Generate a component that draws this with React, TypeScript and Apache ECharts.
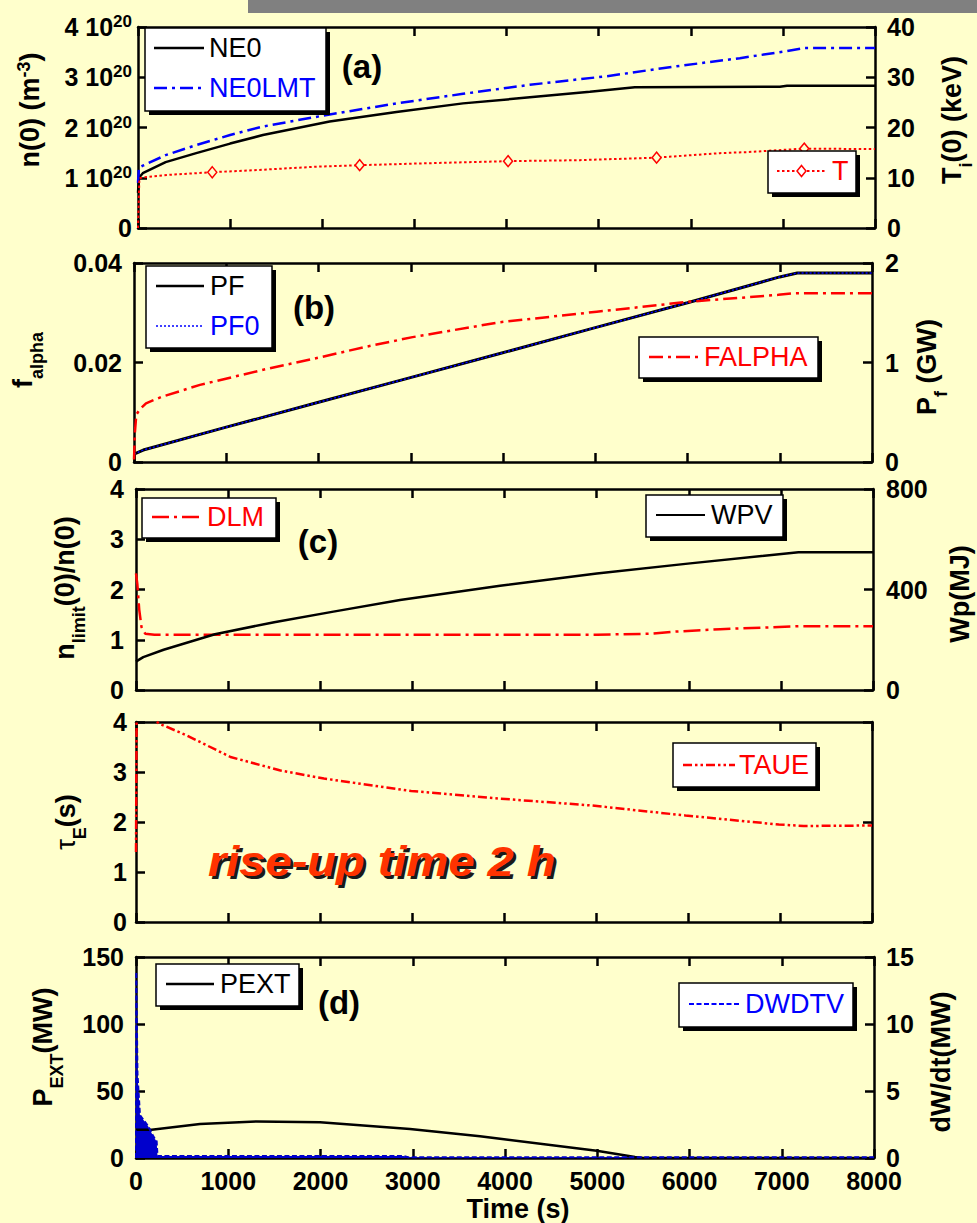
import React, { useEffect, useRef } from "react";
import * as echarts from "echarts";

const FONT = '"Liberation Sans", Arial, Helvetica, sans-serif';
const BG = "#ffffcc";
const RED = "#ff0000";
const BLUE = "#0000ff";
const BLACK = "#000000";

// Shared time axis (s)
const TIME_MIN = 0;
const TIME_MAX = 8000;
const TIME_STEP = 1000;

// (a) central density NE0, density limit NE0LMT (m^-3) and ion temperature T (keV)
const NE0_T = [0, 10, 52, 300, 632, 1000, 1356, 2080, 2805, 3528, 4253, 4905, 5393, 6968, 7045, 8000];
const NE0_V = [0.7e20, 1.0e20, 1.09e20, 1.31e20, 1.49e20, 1.68e20, 1.85e20, 2.12e20, 2.31e20, 2.48e20, 2.6e20, 2.71e20, 2.8e20, 2.81e20, 2.83e20, 2.83e20];
const NE0LMT_T = [0, 10, 52, 300, 632, 1000, 1356, 2080, 2805, 3528, 4253, 5086, 5809, 6533, 7041, 7222, 8000];
const NE0LMT_V = [0.9e20, 1.2e20, 1.24e20, 1.45e20, 1.65e20, 1.85e20, 2.02e20, 2.26e20, 2.48e20, 2.67e20, 2.85e20, 3.02e20, 3.21e20, 3.38e20, 3.52e20, 3.58e20, 3.58e20];
const TI_T = [0, 15, 60, 354, 806, 1356, 1935, 2406, 3166, 4017, 4796, 5629, 6317, 6607, 7232, 8000];
const TI_V = [0, 9.9, 10.1, 10.6, 11.1, 11.6, 12.2, 12.5, 12.9, 13.3, 13.5, 14.0, 14.9, 15.1, 15.8, 15.7];
const TI_MARKED = [806, 2406, 4017, 5629, 7232];

// (b) fusion power PF, PF0 (GW) and alpha fraction FALPHA
const PF_T = [0, 100, 1000, 2000, 2885, 3967, 5000, 6000, 7000, 7190, 8000];
const PF_V = [0.08, 0.12, 0.35, 0.6, 0.82, 1.09, 1.35, 1.6, 1.86, 1.9, 1.9];
const PF0_T = [0, 100, 1000, 2000, 2885, 3967, 5000, 6000, 7000, 7190, 8000];
const PF0_V = [0.08, 0.12, 0.35, 0.6, 0.82, 1.09, 1.35, 1.6, 1.86, 1.9, 1.9];
const FALPHA_T = [0, 10, 25, 60, 130, 300, 715, 1030, 1438, 2030, 2500, 3020, 3967, 5016, 6009, 6985, 7147, 8000];
const FALPHA_V = [0.0005, 0.006, 0.0095, 0.0105, 0.0118, 0.0131, 0.0155, 0.0169, 0.0187, 0.0211, 0.0231, 0.0251, 0.0281, 0.0302, 0.0322, 0.0336, 0.0339, 0.0339];

// (c) density-limit ratio DLM and stored energy WPV (MJ)
const DLM_T = [0, 15, 35, 60, 100, 200, 1000, 3000, 5000, 5581, 5830, 6341, 7210, 8000];
const DLM_V = [2.32, 2.1, 1.6, 1.25, 1.12, 1.1, 1.1, 1.1, 1.1, 1.12, 1.16, 1.21, 1.27, 1.27];
const WPV_T = [0, 25, 79, 300, 856, 1500, 2143, 2866, 3952, 5002, 6015, 7191, 8000];
const WPV_V = [113, 119, 131, 160, 222, 270, 312, 358, 415, 464, 504, 548, 548];

// energy confinement time TAUE (s)
const TAUE_T = [0, 8, 150, 249, 553, 1027, 1570, 2043, 2991, 3939, 4955, 5972, 6987, 7258, 8000];
const TAUE_V = [1.4, 4.6, 4.15, 3.97, 3.73, 3.3, 3.03, 2.87, 2.62, 2.47, 2.33, 2.13, 1.95, 1.92, 1.93];

// (d) external power PEXT (MW) and dW/dt DWDTV (MW)
const PEXT_T = [0, 170, 694, 1308, 1995, 2970, 3729, 3946, 4994, 5409, 5500, 8000];
const PEXT_V = [21, 21.1, 25.4, 27.3, 26.6, 21.6, 16.2, 14.4, 5.4, 0.7, 0, 0];
const DWDTV_T = [0, 3, 16, 43, 79, 133, 188, 224, 233, 250, 2900, 2950, 8000];
const DWDTV_V = [0, 13.9, 6.3, 3.2, 2.86, 2.36, 1.61, 1.24, 0.15, 0.15, 0.15, 0.05, 0.05];

const pairs = (t: number[], v: number[]) => t.map((x, i) => [x, v[i]]);

const PANELS = [
  { left: 138, top: 27, width: 737, height: 201 },
  { left: 134, top: 263, width: 738, height: 199 },
  { left: 136, top: 489, width: 737, height: 201 },
  { left: 136, top: 722, width: 736, height: 200 },
  { left: 136, top: 957, width: 738, height: 201 },
];

const AXIS_LINE = { show: true, onZero: false, lineStyle: { color: BLACK, width: 2.5 } };
const AXIS_TICK = { show: true, inside: true, length: 9, lineStyle: { color: BLACK, width: 2.5 } };
const LABEL = { fontSize: 25, fontWeight: "bold" as const, fontFamily: FONT, color: BLACK, lineHeight: 22 };

function xAxesFor(gi: number, withLabels: boolean) {
  const base = {
    type: "value",
    gridIndex: gi,
    min: TIME_MIN,
    max: TIME_MAX,
    interval: TIME_STEP,
    splitLine: { show: false },
    axisLine: AXIS_LINE,
    axisTick: AXIS_TICK,
  };
  return [
    {
      ...base,
      position: "bottom",
      axisLabel: withLabels ? { ...LABEL, margin: 12, formatter: (v: number) => String(v) } : { show: false },
    },
    { ...base, position: "top", axisLabel: { show: false } },
  ];
}

type YSpec = { grid: number; pos: "left" | "right"; min: number; max: number; interval: number; margin?: number; fmt?: any; rich?: any; label?: boolean; padding?: number[] };

const Y_SPECS: YSpec[] = [
  {
    grid: 0, pos: "left", min: 0, max: 4e20, interval: 1e20, margin: 6,
    fmt: (v: number) => (v === 0 ? "0" : `{m|${Math.round(v / 1e20)} 10}{s|20}`),
    rich: {
      m: { fontSize: 25, fontWeight: "bold", fontFamily: FONT, color: BLACK, lineHeight: 28, verticalAlign: "middle" },
      s: { fontSize: 17, fontWeight: "bold", fontFamily: FONT, color: BLACK, lineHeight: 17, padding: [0, 0, 12, 0], verticalAlign: "top" },
    },
  },
  { grid: 0, pos: "right", min: 0, max: 40, interval: 10, margin: 12 },
  { grid: 1, pos: "left", min: 0, max: 0.04, interval: 0.02, margin: 12, fmt: (v: number) => (v === 0 ? "0" : v.toFixed(2)) },
  { grid: 1, pos: "right", min: 0, max: 2, interval: 1, margin: 13 },
  { grid: 2, pos: "left", min: 0, max: 4, interval: 1, margin: 12 },
  { grid: 2, pos: "right", min: 0, max: 800, interval: 400, margin: 13 },
  { grid: 3, pos: "left", min: 0, max: 4, interval: 1, margin: 9 },
  { grid: 3, pos: "right", min: 0, max: 4, interval: 2, label: false },
  { grid: 4, pos: "left", min: 0, max: 150, interval: 50, margin: 12 },
  { grid: 4, pos: "right", min: 0, max: 15, interval: 5, margin: 12, padding: [0, 0, 8, 0] },
];

function makeYAxis(s: YSpec) {
  const axisLabel: any =
    s.label === false
      ? { show: false }
      : {
          ...LABEL,
          margin: s.margin ?? 12,
          ...(s.fmt ? { formatter: s.fmt } : {}),
          ...(s.rich ? { rich: s.rich } : {}),
          ...(s.padding ? { padding: s.padding } : {}),
        };
  return {
    type: "value",
    gridIndex: s.grid,
    position: s.pos,
    min: s.min,
    max: s.max,
    interval: s.interval,
    splitLine: { show: false },
    axisLine: AXIS_LINE,
    axisTick: AXIS_TICK,
    axisLabel,
  };
}

function lineSeries(name: string, xi: number, yi: number, data: any[], color: string, type: any, width: number, extra: any = {}) {
  return {
    name,
    type: "line",
    xAxisIndex: xi,
    yAxisIndex: yi,
    data,
    symbol: "none",
    showSymbol: false,
    clip: true,
    lineStyle: { color, type, width },
    itemStyle: { color },
    emphasis: { disabled: true },
    ...extra,
  };
}

// ---- graphic helpers: legend boxes, titles, labels ----
function box(x: number, y: number, w: number, h: number) {
  return [
    { type: "rect", z: 100, shape: { x: x + 4, y: y + 4, width: w, height: h }, style: { fill: BLACK } },
    { type: "rect", z: 101, shape: { x, y, width: w, height: h }, style: { fill: "#ffffff", stroke: BLACK, lineWidth: 1.5 } },
  ];
}

function text(x: number, y: number, str: string, color: string, size: number, weight = "normal", align = "left") {
  return {
    type: "text",
    z: 105,
    x,
    y,
    style: {
      text: str,
      fill: color,
      fontSize: size,
      fontWeight: weight,
      fontFamily: FONT,
      align,
      verticalAlign: "middle",
      textAlign: align,
      textVerticalAlign: "middle",
    },
  };
}

function item(x1: number, x2: number, y: number, tx: number, label: string, color: string, dash: any, width: number, diamond = false) {
  const els: any[] = [
    { type: "line", z: 103, shape: { x1, y1: y, x2, y2: y }, style: { stroke: color, lineWidth: width, lineDash: dash } },
    text(tx, y, label, color, 27),
  ];
  if (diamond) {
    const cx = (x1 + x2) / 2;
    els.push({
      type: "polygon",
      z: 104,
      shape: { points: [[cx, y - 5.5], [cx + 4.5, y], [cx, y + 5.5], [cx - 4.5, y]] },
      style: { fill: "#ffffff", stroke: color, lineWidth: 1.5 },
    });
  }
  return els;
}

// rich styles for the rotated axis titles: main text, subscript, superscript
const M = { fontSize: 27, fontWeight: "bold", fontFamily: FONT, fill: BLACK, lineHeight: 30, verticalAlign: "middle" };
const SUB = { fontSize: 18, fontWeight: "bold", fontFamily: FONT, fill: BLACK, lineHeight: 18, padding: [20, 0, 0, 0], verticalAlign: "top" };
const SUP = { fontSize: 18, fontWeight: "bold", fontFamily: FONT, fill: BLACK, lineHeight: 16, padding: [0, 0, 14, 0], verticalAlign: "top" };
const TAU = { ...M, fontWeight: "normal" };

function vTitle(x: number, y: number, str: string) {
  return {
    type: "text",
    z: 105,
    x,
    y,
    rotation: Math.PI / 2,
    style: {
      text: str,
      rich: { m: M, b: SUB, s: SUP, t: TAU },
      align: "center",
      verticalAlign: "middle",
      textAlign: "center",
      textVerticalAlign: "middle",
    },
  };
}

function buildOption() {
  const xAxis = PANELS.flatMap((_, i) => xAxesFor(i, i === PANELS.length - 1));
  const yAxis = Y_SPECS.map(makeYAxis);
  const grid = PANELS.map((p) => ({ ...p, show: false }));

  const DASH_DOT_A = [13, 5, 3, 5];
  const DASH_DOT_B = [14, 5, 3, 5];
  const DASH_DOT_C = [17, 5, 3, 5];
  const DASH_DOT_DOT = [9, 3, 2.5, 3, 2.5, 3];
  const DOTS = [2.5, 2.5];

  const tiData = TI_T.map((t, i) => ({
    value: [t, TI_V[i]],
    symbol: TI_MARKED.includes(t) ? "diamond" : "none",
  }));

  const series: any[] = [
    lineSeries("NE0", 0, 0, pairs(NE0_T, NE0_V), BLACK, "solid", 2.5),
    lineSeries("NE0LMT", 0, 0, pairs(NE0LMT_T, NE0LMT_V), BLUE, DASH_DOT_A, 2.5),
    lineSeries("T", 0, 1, tiData, RED, DOTS, 2, {
      symbol: "diamond",
      showSymbol: true,
      symbolSize: [9, 11],
      itemStyle: { color: BG, borderColor: RED, borderWidth: 1.5 },
    }),
    lineSeries("PF", 2, 3, pairs(PF_T, PF_V), BLACK, "solid", 3),
    lineSeries("PF0", 2, 3, pairs(PF0_T, PF0_V), BLUE, [2, 2], 1.5),
    lineSeries("FALPHA", 2, 2, pairs(FALPHA_T, FALPHA_V), RED, DASH_DOT_B, 2.5),
    lineSeries("DLM", 4, 4, pairs(DLM_T, DLM_V), RED, DASH_DOT_C, 2.5),
    lineSeries("WPV", 4, 5, pairs(WPV_T, WPV_V), BLACK, "solid", 2.5),
    lineSeries("TAUE", 6, 6, pairs(TAUE_T, TAUE_V), RED, DASH_DOT_DOT, 2.5),
    lineSeries("PEXT", 8, 8, pairs(PEXT_T, PEXT_V), BLACK, "solid", 2.5),
    lineSeries("DWDTV", 8, 9, pairs(DWDTV_T, DWDTV_V), "#0000cc", [5, 2.5], 2, {
      areaStyle: { color: "#0000cc", opacity: 1 },
    }),
  ];

  const graphics: any[] = [
    { type: "rect", z: 90, shape: { x: 248, y: 0, width: 729, height: 13 }, style: { fill: "#808080" } },

    // legends
    ...box(145, 28, 181, 83),
    ...item(154, 204, 48, 209, "NE0", BLACK, null, 2.5),
    ...item(154, 204, 88, 209, "NE0LMT", BLUE, DASH_DOT_A, 2.5),
    ...box(768, 151, 88, 42),
    ...item(777, 826, 171, 832, "T", RED, DOTS, 2, true),

    ...box(146, 266, 126, 82),
    ...item(156, 204, 286, 210, "PF", BLACK, null, 2.5),
    ...item(156, 204, 326, 210, "PF0", BLUE, [2, 2], 1.5),
    ...box(639, 337, 179, 41),
    ...item(649, 699, 357, 704, "FALPHA", RED, DASH_DOT_B, 2.5),

    ...box(142, 498, 134, 40),
    ...item(152, 202, 517, 207, "DLM", RED, DASH_DOT_C, 2.5),
    ...box(646, 495, 137, 42),
    ...item(656, 705, 515, 711, "WPV", BLACK, null, 2),

    ...box(673, 743, 143, 44),
    ...item(683, 735, 765, 739, "TAUE", RED, DASH_DOT_DOT, 2.5),

    ...box(156, 964, 143, 42),
    ...item(166, 214, 984, 220, "PEXT", BLACK, null, 2.5),
    ...box(679, 983, 174, 44),
    ...item(689, 739, 1004, 745, "DWDTV", BLUE, [5, 2.5], 2),

    // panel tags
    text(362, 66, "(a)", BLACK, 33, "bold", "center"),
    text(314, 307, "(b)", BLACK, 33, "bold", "center"),
    text(318, 541, "(c)", BLACK, 33, "bold", "center"),
    text(339, 1002, "(d)", BLACK, 33, "bold", "center"),

    // axis titles
    vTitle(30, 110, "{m|n(0) (m}{s|-3}{m|)}"),
    vTitle(952, 120, "{m|T}{b|i}{m|(0) (keV)}"),
    vTitle(23, 360, "{m|f}{b|alpha}"),
    vTitle(927, 367, "{m|P}{b|f}{m| (GW)}"),
    vTitle(65, 588, "{m|n}{b|limit}{m|(0)/n(0)}"),
    vTitle(960, 594, "{m|Wp(MJ)}"),
    vTitle(66, 822, "{t|\u03c4}{b|E}{m|(s)}"),
    vTitle(43, 1047, "{m|P}{b|EXT}{m|(MW)}"),
    vTitle(941, 1062, "{m|dW/dt(MW)}"),
    text(518, 1209, "Time (s)", BLACK, 27, "bold", "center"),

    // annotation with drop shadow
    {
      type: "text", z: 106, x: 211, y: 864, scaleX: 1.12,
      style: { text: "rise-up time 2 h", fill: "#1a1a1a", fontSize: 42, fontWeight: "bold", fontStyle: "italic", fontFamily: FONT, align: "left", verticalAlign: "middle", textAlign: "left", textVerticalAlign: "middle" },
    },
    {
      type: "text", z: 107, x: 208, y: 861, scaleX: 1.12,
      style: { text: "rise-up time 2 h", fill: "#ff3300", fontSize: 42, fontWeight: "bold", fontStyle: "italic", fontFamily: FONT, align: "left", verticalAlign: "middle", textAlign: "left", textVerticalAlign: "middle" },
    },
  ];

  return {
    animation: false,
    backgroundColor: BG,
    grid,
    xAxis,
    yAxis,
    series,
    graphic: { elements: graphics },
  };
}

export default function App() {
  const ref = useRef<HTMLDivElement>(null);
  useEffect(() => {
    const chart = echarts.init(ref.current as HTMLDivElement, null, { renderer: "svg" });
    chart.setOption(buildOption() as any);
    return () => chart.dispose();
  }, []);
  return <div ref={ref} style={{ position: "fixed", left: 0, top: 0, width: 977, height: 1223 }} />;
}
